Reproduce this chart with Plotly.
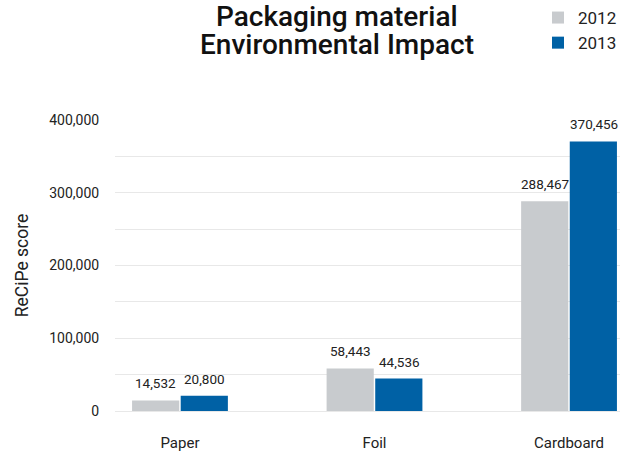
import plotly.graph_objects as go

categories = ["Paper", "Foil", "Cardboard"]
values_2012 = [14532, 58443, 288467]
values_2013 = [20800, 44536, 370456]
series_names = ["2012", "2013"]
colors = ["#c8cbce", "#0061a5"]

grid_vals = [0, 50000, 100000, 150000, 200000, 250000, 300000, 350000, 400000]
grid_text = ["0", "", "100,000", "", "200,000", "", "300,000", "", "400,000"]

title_lines = ["Packaging material", "Environmental Impact"]

FONT = "Roboto"
TEXT_COLOR = "#222222"

fig = go.Figure()
for name, vals, col in zip(series_names, [values_2012, values_2013], colors):
    fig.add_trace(go.Bar(
        x=categories, y=vals, name=name,
        marker=dict(color=col, line=dict(width=0)),
    ))

# value labels above each bar, nudged sideways to the bar's slot in the group
annotations = []
for shift, vals in zip([-24.5, 24.5], [values_2012, values_2013]):
    for cat, v in zip(categories, vals):
        annotations.append(dict(
            x=cat, y=v, xref="x", yref="y", text=f"{v:,}",
            showarrow=False, xanchor="center", yanchor="bottom",
            xshift=shift, yshift=7,
            font=dict(family=FONT, size=13.5, color=TEXT_COLOR),
        ))

# two-line heading
for i, line in enumerate(title_lines):
    annotations.append(dict(
        x=0.44, y=1.417 - i * 0.099, xref="paper", yref="paper",
        text=line, showarrow=False, xanchor="center", yanchor="top",
        borderpad=0,
        font=dict(family=FONT, size=28, color="#111111", weight=500),
    ))

fig.update_layout(
    width=622, height=454,
    margin=dict(l=115, r=2, t=120, b=41),
    paper_bgcolor="white", plot_bgcolor="white",
    barmode="group", bargap=0.5, bargroupgap=0.03,
    annotations=annotations,
    legend=dict(
        x=0.875, xanchor="left", y=1.0, yanchor="top",
        yref="container",
        font=dict(family=FONT, size=17, color=TEXT_COLOR),
        itemwidth=30, tracegroupgap=0, bgcolor="rgba(0,0,0,0)",
    ),
    showlegend=True,
)

fig.update_xaxes(
    range=[-0.334, 2.262],
    showgrid=False, zeroline=False, showline=False,
    ticks="outside", ticklen=18, tickcolor="rgba(0,0,0,0)",
    tickfont=dict(family=FONT, size=15, color=TEXT_COLOR),
)
fig.update_yaxes(
    range=[0, 400000],
    tickvals=grid_vals, ticktext=grid_text,
    showgrid=True, gridcolor="#e8e8e8", gridwidth=1,
    zeroline=True, zerolinecolor="#e8e8e8", zerolinewidth=1,
    showline=False,
    ticks="outside", ticklen=12, tickcolor="rgba(0,0,0,0)",
    tickfont=dict(family=FONT, size=14, color=TEXT_COLOR),
    title=dict(text="ReCiPe score", standoff=16,
               font=dict(family=FONT, size=17.5, color=TEXT_COLOR)),
)

fig.write_html("out.html")
